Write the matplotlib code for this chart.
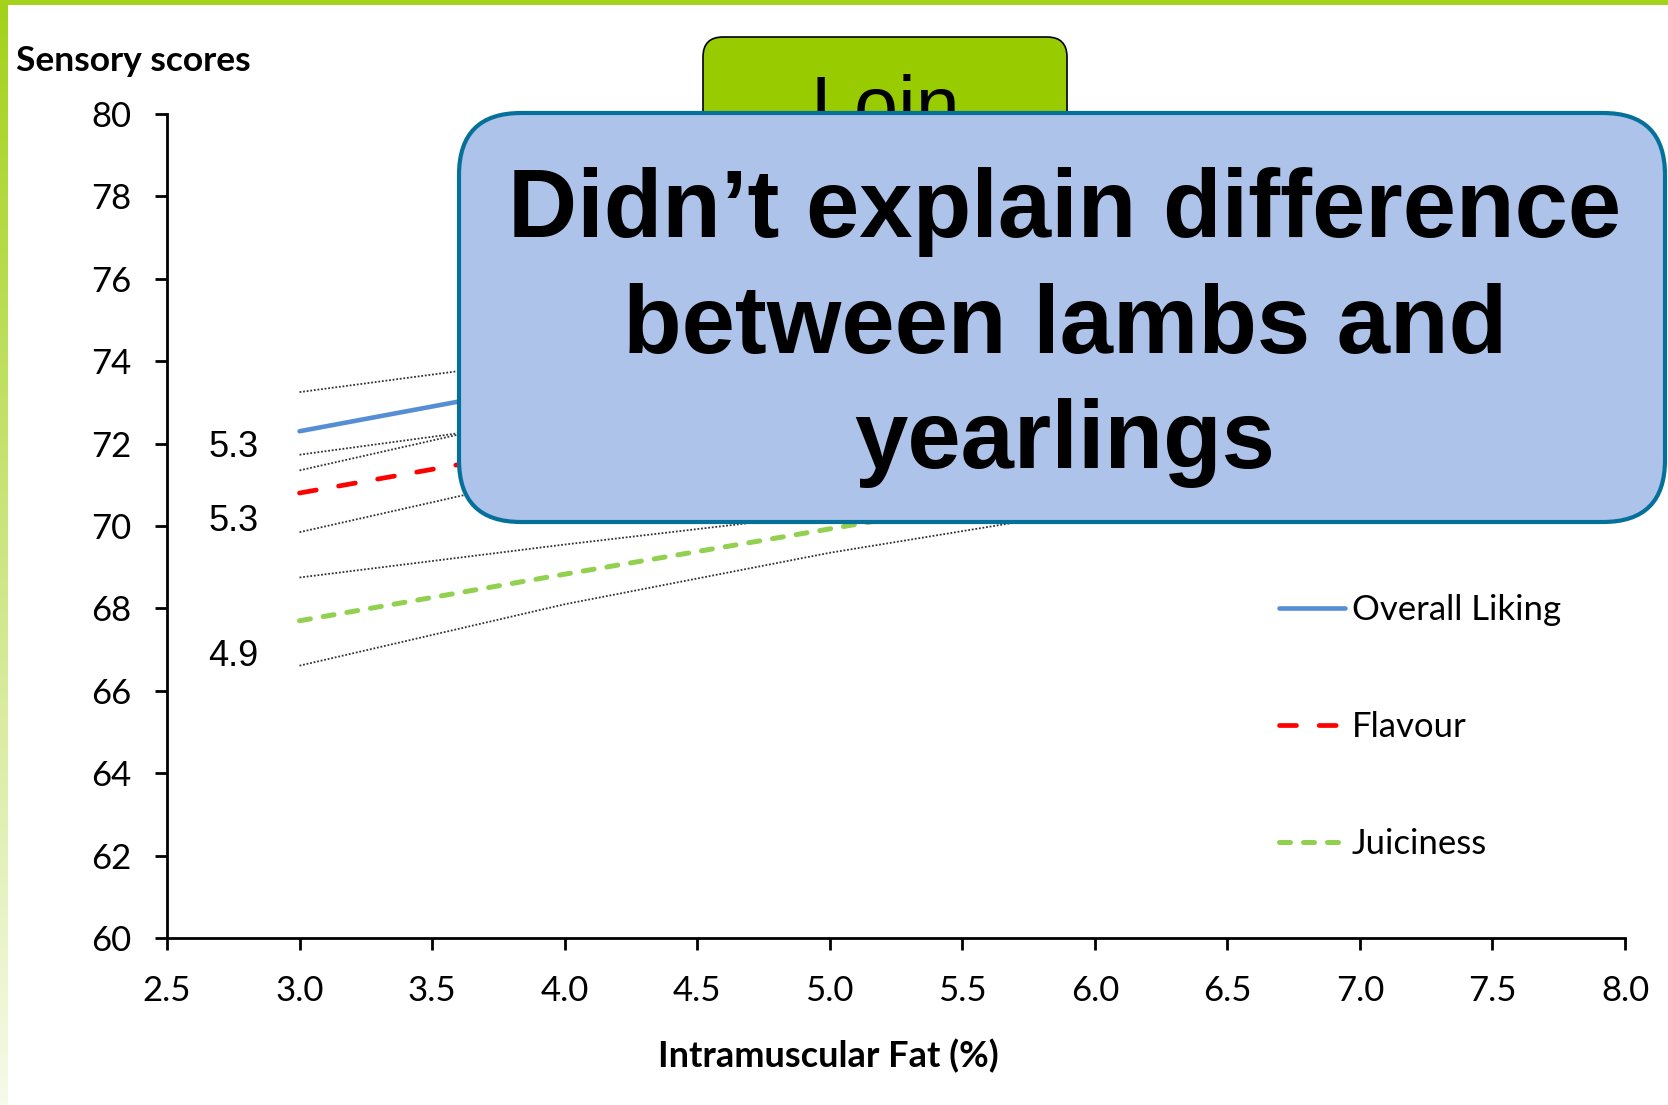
import numpy as np
import matplotlib
matplotlib.use("Agg")
import matplotlib.pyplot as plt
from matplotlib.patches import FancyBboxPatch, Rectangle

# -- values (x = intramuscular fat %, y = sensory score)
fat = [3.0, 4.0, 5.0, 6.0]
liking = [72.3, 73.5, 74.7, 75.9]
liking_hi = [73.25, 74.1, 74.9, 75.7]
liking_lo = [71.35, 72.8, 74.2, 75.5]
flavour = [70.8, 71.95, 73.1, 74.25]
flavour_hi = [71.73, 72.6, 73.4, 74.2]
flavour_lo = [69.85, 71.3, 72.7, 74.0]
juiciness = [67.7, 68.83, 69.93, 71.03]
juiciness_hi = [68.75, 69.55, 70.3, 71.0]
juiciness_lo = [66.61, 68.1, 69.35, 70.4]

se_labels = ["5.3", "5.3", "4.9"]
se_label_y = [71.68, 69.87, 66.59]
se_label_x = 2.75

x_ticks = [2.5, 3.0, 3.5, 4.0, 4.5, 5.0, 5.5, 6.0, 6.5, 7.0, 7.5, 8.0]
y_ticks = [60, 62, 64, 66, 68, 70, 72, 74, 76, 78, 80]

callout_lines = ["Didn\u2019t explain difference", "between lambs and", "yearlings"]

W, H = 1668, 1105
TICK_FONT = "Lato"
ARIAL = "Liberation Sans"

fig = plt.figure(figsize=(W / 100, H / 100), dpi=100)
ax = fig.add_axes([167 / W, 1 - 938 / H, (1625 - 167) / W, (938 - 114) / H])

# -- confidence lines (dotted)
for band in (liking_hi, liking_lo, flavour_hi, flavour_lo, juiciness_hi, juiciness_lo):
    ax.plot(fat, band, color="#333333", lw=1.3, ls=(0, (1.0, 1.0)), zorder=2)

l1, = ax.plot(fat, liking, color="#558ED5", lw=3.3, solid_capstyle="round",
              label="Overall Liking", zorder=3)
l2, = ax.plot(fat, flavour, color="#FF0000", lw=3.4, ls=(0, (3.6, 4.8)),
              dash_capstyle="round", label="Flavour", zorder=3)
l3, = ax.plot(fat, juiciness, color="#92D050", lw=3.6, ls=(0, (2.2, 2.6)),
              dash_capstyle="round", label="Juiciness", zorder=3)

for lab, yy in zip(se_labels, se_label_y):
    ax.text(se_label_x, yy, lab, ha="center", va="baseline", fontsize=26, family=ARIAL)

ax.set_xlim(2.5, 8.0)
ax.set_ylim(60, 80)
ax.set_xticks(x_ticks)
ax.set_xticklabels([f"{v:.1f}" for v in x_ticks])
ax.set_yticks(y_ticks)
ax.spines["top"].set_visible(False)
ax.spines["right"].set_visible(False)
for s in ("left", "bottom"):
    ax.spines[s].set_linewidth(2.0)
ax.tick_params(axis="both", direction="out", length=8.6, width=2.0, labelsize=25)
ax.tick_params(axis="y", pad=17)
ax.tick_params(axis="x", pad=18)
for t in ax.get_xticklabels() + ax.get_yticklabels():
    t.set_family(TICK_FONT)

leg = ax.legend(handles=[l1, l2, l3], loc="center left",
                bbox_to_anchor=(1279 / W, 1 - 727 / H), bbox_transform=fig.transFigure,
                frameon=False, borderpad=0, borderaxespad=0, handlelength=1.9,
                handletextpad=0.2, labelspacing=2.45,
                prop={"family": TICK_FONT, "size": 25})

fig.text(16 / W, 1 - 71 / H, "Sensory scores", family=TICK_FONT, weight="bold",
         fontsize=25.5, ha="left", va="baseline")
fig.text(828 / W, 1 - 1067 / H, "Intramuscular Fat (%)", family=TICK_FONT,
         weight="bold", fontsize=26, ha="center", va="baseline")

# -- slide decoration and callouts drawn in pixel coordinates
ov = fig.add_axes([0, 0, 1, 1], zorder=5)
grad = np.linspace(0, 1, 256)[:, None, None]
top_c = np.array([164, 210, 26]) / 255
bot_c = np.array([246, 250, 234]) / 255
ov.imshow(top_c + grad * (bot_c - top_c), extent=(0, 8, H, 5), aspect="auto")
ov.add_patch(Rectangle((0, 0), W, 5, color="#A5D21A", lw=0))

ov.add_patch(FancyBboxPatch((703, 37), 364, 200, boxstyle="round,pad=0,rounding_size=20",
                            fc="#99CC00", ec="black", lw=1.2, zorder=1))
ov.text(885, 132, "Loin", ha="center", va="baseline", fontsize=57, family=ARIAL, zorder=1.5)

ov.add_patch(FancyBboxPatch((459, 113), 1206, 409, boxstyle="round,pad=0,rounding_size=62",
                            fc="#AEC3EA", ec="#05709A", lw=3.0, zorder=2))
for line, base in zip(callout_lines, [237, 353, 468]):
    ov.text(1065, base, line, ha="center", va="baseline", fontsize=69,
            family=ARIAL, weight="bold", zorder=3)

ov.set_xlim(0, W)
ov.set_ylim(H, 0)
ov.axis("off")

fig.savefig("out.png", dpi=100)
